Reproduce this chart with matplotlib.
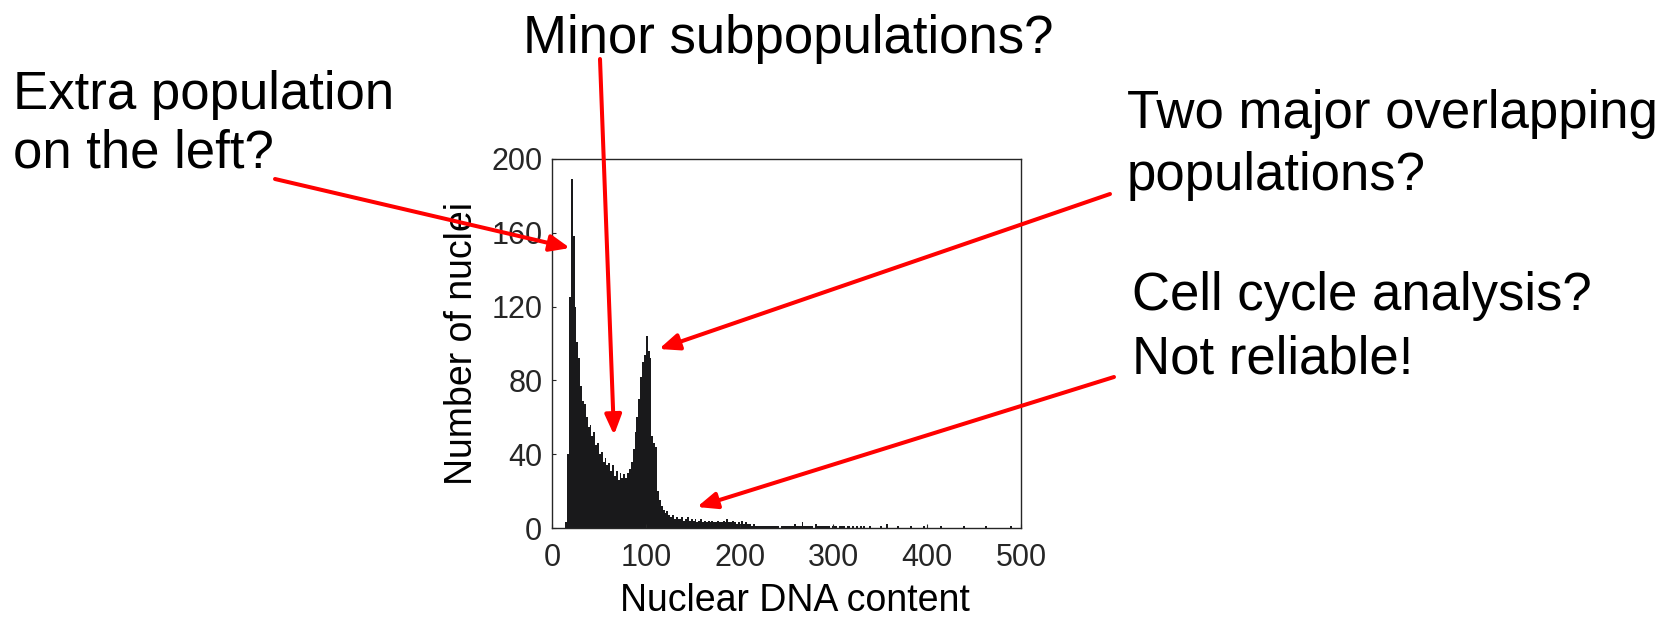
import numpy as np
import matplotlib
matplotlib.use('Agg')
import matplotlib.pyplot as plt

plt.rcParams['font.family'] = ['Liberation Sans', 'DejaVu Sans']

# histogram counts, bins of width 2 from 0 to 500
bin_width = 2
counts = [
    0, 0, 0, 0, 0, 0, 0,
    3, 40, 125, 189, 158, 120, 101, 92, 77, 69,
    67, 60, 55, 56, 50, 52, 45, 46, 40, 41,
    36, 38, 34, 35, 31, 34, 28, 31, 26, 30,
    27, 29, 27, 30, 32, 36, 43, 52, 60, 70,
    82, 90, 94, 104, 96, 92, 50, 46, 44, 20,
    15, 12, 10, 8, 9, 7, 6, 7, 5, 6,
    5, 5, 6, 4, 5, 6, 4, 5, 4, 5,
    3, 4, 5, 3, 4, 3, 4, 3, 4, 3,
    3, 4, 3, 3, 4, 3, 5, 3, 3, 4,
    3, 2, 3, 2, 4, 2, 3, 2, 2, 1,
    2, 1, 1, 1, 1, 1, 1, 1,
    1, 1, 1, 1, 1, 1, 0, 1, 1, 1,
    1, 1, 1, 1, 2, 1, 1, 1, 3, 1,
    1, 1, 1, 1, 0, 2, 1, 1, 1, 1,
    1, 1, 1, 0, 1, 1, 1, 0, 1, 1,
    1, 0, 1, 1, 0, 1, 0, 1, 0, 1,
    0, 1, 0, 0, 1, 0, 0, 0, 0, 0,
    1, 0, 0, 2, 0, 0, 0, 0, 0, 1,
    0, 0, 0, 0, 0, 0, 1, 0, 0, 0,
    0, 0, 0, 1, 0, 0, 0, 0, 0, 0,
    0, 0, 1, 0, 0, 0, 0, 0, 0, 0,
    0, 0, 0, 0, 1, 0, 0, 0, 0, 0,
    0, 0, 0, 0, 0, 0, 1, 0, 0, 0,
    0, 0, 0, 0, 0, 0, 0, 0, 0, 1,
    0, 0, 0, 0, 0,
]
edges = np.arange(0, bin_width * len(counts) + 1, bin_width)

x_ticks = [0, 100, 200, 300, 400, 500]
y_ticks = [0, 40, 80, 120, 160, 200]

# annotation text lines
notes = [
    ["Extra population", "on the left?"],
    ["Minor subpopulations?"],
    ["Two major overlapping", "populations?"],
    ["Cell cycle analysis?", "Not reliable!"],
]

W, H = 1675, 617
fig = plt.figure(figsize=(W / 100, H / 100), dpi=100)
ax = fig.add_axes([552 / W, 1 - 528 / H, 469 / W, 369 / H])

ax.stairs(counts, edges, fill=True, color='#19191b', linewidth=0)
ax.set_xlim(0, 500)
ax.set_ylim(0, 200)
ax.set_xticks(x_ticks)
ax.set_yticks(y_ticks)
ax.tick_params(direction='in', length=3, width=0.8, labelsize=22, colors='#262626',
               top=False, right=False)
ax.tick_params(axis='y', pad=7)
ax.tick_params(axis='x', pad=11)
for s in ax.spines.values():
    s.set_color('#262626')
    s.set_linewidth(1.0)
ax.set_xlabel('Nuclear DNA content', fontsize=27)
ax.xaxis.set_label_coords(0.518, -0.15)
ax.set_ylabel('Number of nuclei', fontsize=27, labelpad=8)

# text positions in pixels: left x, baseline of first line, line step
text_pos = [(13, 109, 58.7), (523, 53, 0), (1127, 128, 62), (1132, 310, 64)]
for lines, (tx, ty, step) in zip(notes, text_pos):
    for i, line in enumerate(lines):
        fig.text(tx / W, 1 - (ty + i * step) / H, line, fontsize=38,
                 ha='left', va='baseline', color='black')

# arrows: (tail, tip) in pixels
arrows = [((275, 179), (570, 248)),
          ((600, 59), (614, 435)),
          ((1110, 194), (659, 349)),
          ((1114, 377), (697, 507))]
for (x0, y0), (x1, y1) in arrows:
    fig.add_artist(matplotlib.patches.FancyArrowPatch(
        (x0 / W, 1 - y0 / H), (x1 / W, 1 - y1 / H),
        transform=fig.transFigure, arrowstyle='-|>,head_length=0.6,head_width=0.25',
        mutation_scale=20, color='red', linewidth=2.9, shrinkA=0, shrinkB=0))

fig.savefig('out.png', dpi=100)
